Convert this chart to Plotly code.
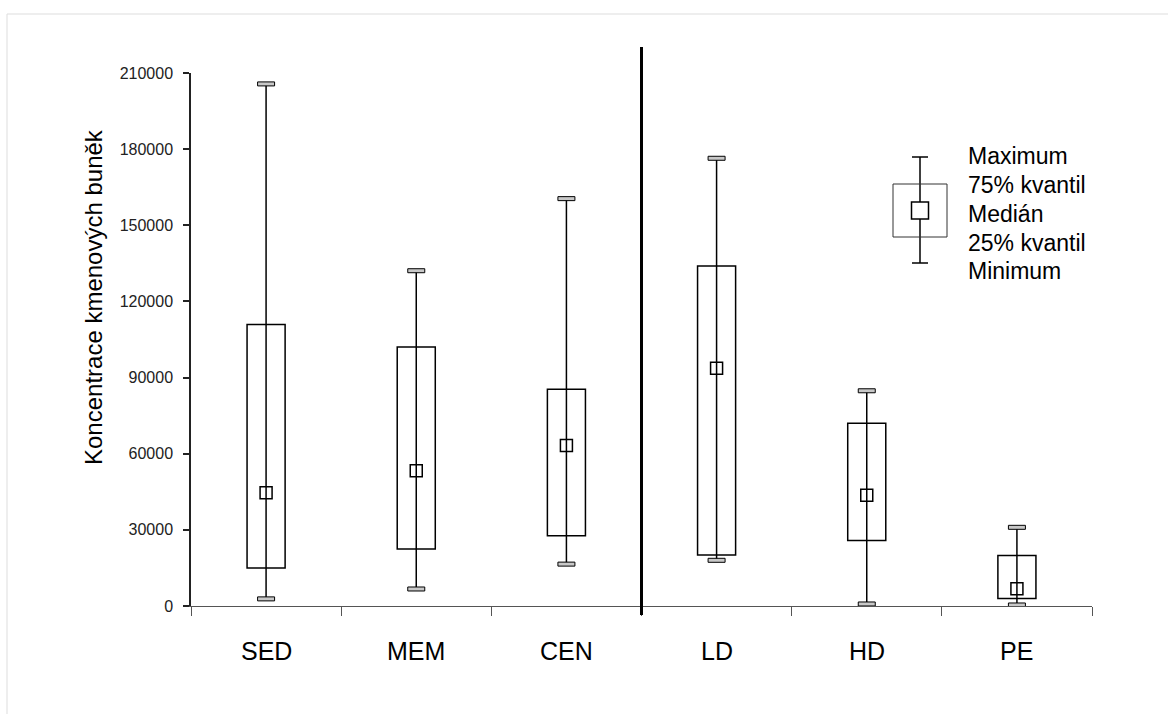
import plotly.graph_objects as go

categories = ["SED", "MEM", "CEN", "LD", "HD", "PE"]
minimum = [2800, 6700, 16500, 18000, 800, 400]
q25 = [15000, 22500, 27700, 20100, 25800, 3000]
median = [44600, 53300, 63200, 93700, 43600, 6800]
q75 = [110900, 102000, 85400, 134000, 72000, 19900]
maximum = [205700, 132100, 160500, 176400, 84800, 31000]
y_ticks = list(range(0, 210001, 30000))
legend_labels = ["Maximum", "75% kvantil", "Medián", "25% kvantil", "Minimum"]
y_title = "Koncentrace kmenových buněk"

FONT = "Liberation Sans, Arial, sans-serif"
W, H = 1168, 714
L, R, T, B = 191, 76, 73, 108
PW, PH = W - L - R, H - T - B


def px(xp):
    return (xp - L) / PW


def py(yp):
    return (H - B - yp) / PH


xs = list(range(len(categories)))
shapes = []
annotations = []
half_box = 0.1267

for i in xs:
    # whisker
    shapes.append(dict(type="line", xref="x", yref="y", x0=i, x1=i,
                       y0=minimum[i], y1=maximum[i],
                       line=dict(color="black", width=1.5)))
    # box
    shapes.append(dict(type="rect", xref="x", yref="y",
                       x0=i - half_box, x1=i + half_box, y0=q25[i], y1=q75[i],
                       line=dict(color="black", width=1.5)))
    # caps
    for v in (minimum[i], maximum[i]):
        shapes.append(dict(type="rect", xref="x", yref="y",
                           xsizemode="pixel", xanchor=i, x0=-8.5, x1=8.5,
                           ysizemode="pixel", yanchor=v, y0=-2, y1=2,
                           fillcolor="#c8c8c8",
                           line=dict(color="black", width=1)))
    annotations.append(dict(x=i, y=py(651), xref="x", yref="paper",
                            text=categories[i], showarrow=False,
                            xanchor="center", yanchor="middle",
                            font=dict(size=25, color="black", family=FONT)))

# separator line between groups
shapes.append(dict(type="line", xref="x", yref="paper", x0=2.5, x1=2.5,
                   y0=py(615), y1=py(47), line=dict(color="black", width=3)))

# light frame (top and left)
shapes.append(dict(type="line", xref="paper", yref="paper", x0=px(7), x1=px(1168),
                   y0=py(14), y1=py(14), line=dict(color="#dddddd", width=1)))
shapes.append(dict(type="line", xref="paper", yref="paper", x0=px(7), x1=px(7),
                   y0=py(14), y1=py(714), line=dict(color="#dddddd", width=1)))

# legend icon
cx = 920
shapes.append(dict(type="line", xref="paper", yref="paper", x0=px(cx), x1=px(cx),
                   y0=py(157), y1=py(263), line=dict(color="black", width=1.5)))
shapes.append(dict(type="rect", xref="paper", yref="paper", x0=px(893), x1=px(947),
                   y0=py(237), y1=py(184), line=dict(color="#333333", width=1)))
for yy in (157, 263):
    shapes.append(dict(type="line", xref="paper", yref="paper", x0=px(912), x1=px(928),
                       y0=py(yy), y1=py(yy), line=dict(color="black", width=1.5)))
shapes.append(dict(type="rect", xref="paper", yref="paper", x0=px(911.5), x1=px(928.5),
                   y0=py(219), y1=py(202), fillcolor="white",
                   line=dict(color="black", width=1.5)))

legend_y = [156, 185, 214, 243, 271]
for lab, yy in zip(legend_labels, legend_y):
    annotations.append(dict(x=px(966), y=py(yy), xref="paper", yref="paper",
                            text=lab, showarrow=False, xanchor="left", yanchor="middle",
                            font=dict(size=23, color="black", family=FONT)))

# y axis title
annotations.append(dict(x=px(93), y=py(297), xref="paper", yref="paper",
                        text=y_title, textangle=-90, showarrow=False,
                        xanchor="center", yanchor="middle",
                        font=dict(size=24, color="black", family=FONT)))

fig = go.Figure()
fig.add_trace(go.Scatter(
    x=xs, y=median, mode="markers",
    marker=dict(symbol="square-open", size=12, color="black",
                line=dict(width=1.5, color="black")),
    showlegend=False, hoverinfo="y"))

fig.update_layout(
    width=W, height=H,
    margin=dict(l=L, r=R, t=T, b=B, autoexpand=False),
    paper_bgcolor="white", plot_bgcolor="white",
    showlegend=False,
    shapes=shapes, annotations=annotations,
    font=dict(family=FONT),
    xaxis=dict(range=[-0.5, 5.5], showgrid=False, zeroline=False,
               showline=True, linecolor="#555555", linewidth=1,
               tickmode="array", tickvals=[i - 0.5 for i in range(len(categories) + 1)],
               ticktext=[""] * (len(categories) + 1),
               ticks="outside", ticklen=9, tickcolor="#555555", tickwidth=1),
    yaxis=dict(range=[0, 210000], showgrid=False, zeroline=False,
               showline=True, linecolor="#222222", linewidth=1.5,
               tickmode="array", tickvals=y_ticks,
               ticktext=[str(v) for v in y_ticks],
               ticks="outside", ticklen=6, tickcolor="#222222", tickwidth=1.5,
               ticklabelstandoff=7,
               tickfont=dict(size=16, color="#222222", family=FONT)),
)

fig.write_html("out.html")
